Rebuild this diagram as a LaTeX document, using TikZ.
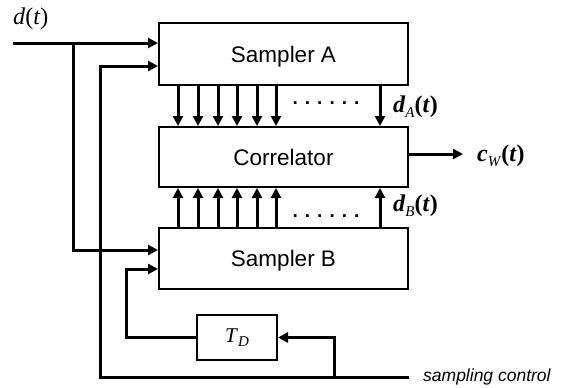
\documentclass[tikz,border=0pt]{standalone}
\usepackage{fontspec}
\setmainfont{Liberation Serif}
\setsansfont{Liberation Sans}
\usetikzlibrary{arrows.meta,calc}
\newcommand\subi[1]{\raisebox{-0.22em}{\fontsize{15}{15}\selectfont\mdseries\textit{#1}}}
\tikzset{
 box/.style={draw, line width=2pt, minimum width=249pt, inner sep=0pt, text depth=0pt,
   font=\sffamily\fontsize{22.5}{26}\selectfont},
 conn/.style={line width=3pt},
 arr/.style={conn, -{Triangle[length=10pt,width=10pt]}},
 mlab/.style={font=\fontsize{24}{28}\selectfont, inner sep=0pt, anchor=base west},
 dotrow/.style={font=\sffamily\bfseries\fontsize{19}{20}\selectfont, inner sep=0pt, anchor=base},
}
\begin{document}
\begin{tikzpicture}[x=1pt,y=-1pt]
\useasboundingbox (0,0) rectangle (563,388);
% boxes
\node[box, minimum height=62pt] (sA) at (283.5,54) {Sampler A};
\node[box, minimum height=60pt] (cor) at (283.5,157) {Correlator};
\node[box, minimum height=61pt] (sB) at (283.5,258.5) {Sampler B};
\node[box, minimum width=80pt, minimum height=45pt, text depth=, font=\fontsize{21}{24}\selectfont] (TD) at (237,337.5) {\textit{T}\subi{D}};
% labels
\node[mlab] (dl) at (13,24) {\textit{d}(\textit{t})};
\node[mlab] (dA) at (393,112) {\textbf{\textit{d}\subi{A}(\textit{t})}};
\node[mlab] (dB) at (393,211) {\textbf{\textit{d}\subi{B}(\textit{t})}};
\node[mlab] (cW) at (477,161) {\textbf{\textit{c}\subi{W}(\textit{t})}};
\node[font=\sffamily\itshape\fontsize{17.5}{20}\selectfont, anchor=base west, inner sep=0pt] (scl) at (423,381) {sampling control};
\node[dotrow] (dotsA) at (326,104) {. . . . . .};
\node[dotrow] (dotsB) at (326,217) {. . . . . .};
% coordinates
\coordinate (din) at (13,43);
\coordinate (j1) at (73,43);
\coordinate (sA1) at ($(sA.west)+(0,-11)$);
\coordinate (sA2) at ($(sA.west)+(0,12)$);
\coordinate (sB1) at ($(sB.west)+(0,-8.5)$);
\coordinate (sB2) at ($(sB.west)+(0,10.5)$);
\coordinate (scEnd) at (409,377);
\coordinate (c1) at (100,377);
\coordinate (j2) at (334,377);
\coordinate (c3) at (126,337.5);
\coordinate (cwS) at ($(cor.east)+(0,-3)$);
\coordinate (cwE) at (463,154);
% connectors
\draw[arr] (din) -- (sA1);
\draw[arr] (j1) |- (sB1);
\draw[arr] (scEnd) -- (c1) |- (sA2);
\draw[arr] (j2) |- (TD.east);
\draw[arr] (TD.west) -- (c3) |- (sB2);
\draw[arr] (cwS) -- (cwE);
\foreach \x in {178,198,218,237,257,276,380}{
  \draw[arr] (sA.south -| \x,0) -- (cor.north -| \x,0);
  \draw[arr] (sB.north -| \x,0) -- (cor.south -| \x,0);
}
\end{tikzpicture}
\end{document}
